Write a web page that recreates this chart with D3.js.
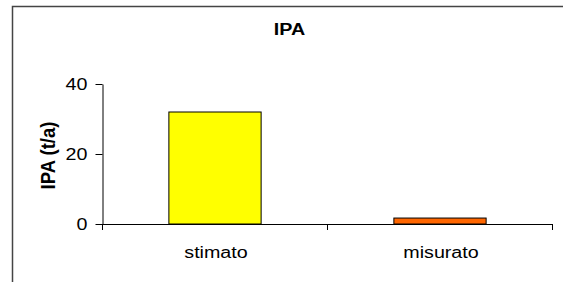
<head>
<meta charset="utf-8">
<script src="https://d3js.org/d3.v7.min.js"></script>
<style>
  body { margin: 0; background: #fff; }
  svg { display: block; font-family: "Liberation Sans", Arial, sans-serif; }
</style>
</head>
<body>
<svg id="chart" width="563" height="282"></svg>
<script>
// chart data
const categories = ["stimato", "misurato"];
const values = [32, 1.7];
const colors = ["#ffff00", "#ff6600"];
const yTicks = [0, 20, 40];

// the original picture is stretched sideways a bit
const stretch = 1.23;

const svg = d3.select("#chart");

// outer chart frame (cut off at right and bottom like the original)
svg.append("path")
  .attr("d", "M12.5,282 L12.5,6.5 L563,6.5")
  .attr("fill", "none")
  .attr("stroke", "#444")
  .attr("stroke-width", 1.5);

const margin = {left: 102, right: 552, top: 84, bottom: 224};

const x = d3.scaleBand()
  .domain(categories)
  .range([margin.left, margin.right])
  .padding(0);

const y = d3.scaleLinear()
  .domain([0, 40])
  .range([margin.bottom, margin.top]);

// title
svg.append("text")
  .attr("transform", "translate(289.5,35) scale(" + stretch + ",1)")
  .attr("text-anchor", "middle")
  .attr("font-weight", "bold")
  .attr("font-size", 16)
  .text("IPA");

// y axis
const yAxis = svg.append("g")
  .attr("transform", "translate(" + (margin.left + 0.5) + ",0)")
  .call(d3.axisLeft(y).tickValues(yTicks).tickSize(7).tickSizeOuter(0));
yAxis.select(".domain").attr("stroke", "#000");
yAxis.selectAll(".tick line").attr("stroke", "#000");
yAxis.selectAll("text")
  .attr("x", 0)
  .attr("transform", "translate(-15,0) scale(" + stretch + ",1)")
  .attr("font-size", 16).attr("fill", "#000")
  .attr("font-family", "Liberation Sans, Arial, sans-serif")
  .attr("dy", "0.35em");

// y axis label
svg.append("text")
  .attr("transform", "translate(55,155.5) rotate(-90) scale(1,1.1)")
  .attr("text-anchor", "middle")
  .attr("font-weight", "bold")
  .attr("font-size", 18.5)
  .text("IPA (t/a)");

// bars
const barW = x.bandwidth() * 0.41;
svg.selectAll(".bar")
  .data(values)
  .enter().append("rect")
  .attr("class", "bar")
  .attr("x", (d, i) => x(categories[i]) + x.bandwidth() / 2 - barW / 2 + 0.5)
  .attr("y", d => y(d))
  .attr("width", barW)
  .attr("height", d => y(0) - y(d))
  .attr("fill", (d, i) => colors[i])
  .attr("stroke", "#000")
  .attr("stroke-width", 1);

// x axis line + boundary ticks
const xa = svg.append("g");
xa.append("line")
  .attr("x1", margin.left).attr("x2", margin.right + 0.5)
  .attr("y1", y(0) + 0.5).attr("y2", y(0) + 0.5)
  .attr("stroke", "#000");
const edges = [x(categories[0])].concat(categories.map(c => x(c) + x.bandwidth()));
xa.selectAll(".xt")
  .data(edges)
  .enter().append("line")
  .attr("x1", d => d + 0.5).attr("x2", d => d + 0.5)
  .attr("y1", y(0)).attr("y2", y(0) + 6)
  .attr("stroke", "#000");
xa.selectAll(".xl")
  .data(categories)
  .enter().append("text")
  .attr("transform", d => "translate(" + (x(d) + x.bandwidth() / 2 + 1.5) + ",258) scale(" + stretch + ",1)")
  .attr("text-anchor", "middle")
  .attr("font-size", 16)
  .text(d => d);
</script>
</body>
